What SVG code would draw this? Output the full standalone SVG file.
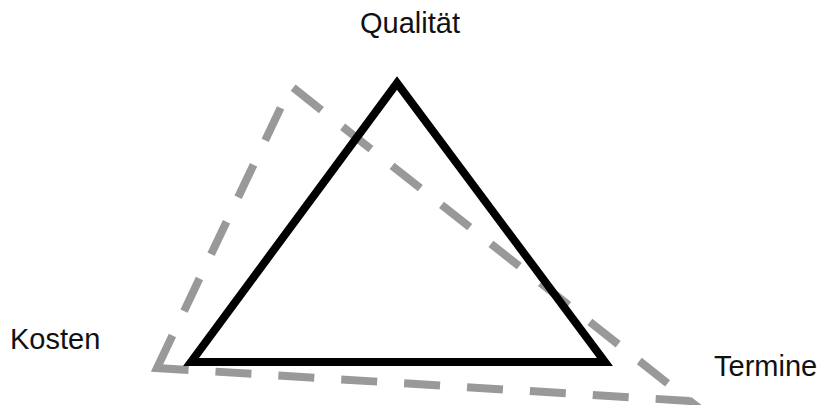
<svg xmlns="http://www.w3.org/2000/svg" width="825" height="405" viewBox="0 0 825 405">
<style>
.lbl{font-family:"Liberation Sans",Arial,sans-serif;font-size:29px;fill:#111}
.dash{fill:none;stroke:#999;stroke-width:8;stroke-dasharray:36 27;stroke-linejoin:miter}
.solid{fill:none;stroke:#000;stroke-width:8;stroke-linejoin:miter}
</style>
<rect width="825" height="405" fill="#fff"/>
<g id="connectors">
<polygon class="dash" points="157,368 291,86 690,401"/>
<polygon class="solid" points="397,83 605,362 191,362"/>
</g>
<g id="qualitaet"><text class="lbl" x="410" y="33" text-anchor="middle">Qualität</text></g>
<g id="kosten"><text class="lbl" x="10" y="349">Kosten</text></g>
<g id="termine"><text class="lbl" x="714" y="376">Termine</text></g>
</svg>
